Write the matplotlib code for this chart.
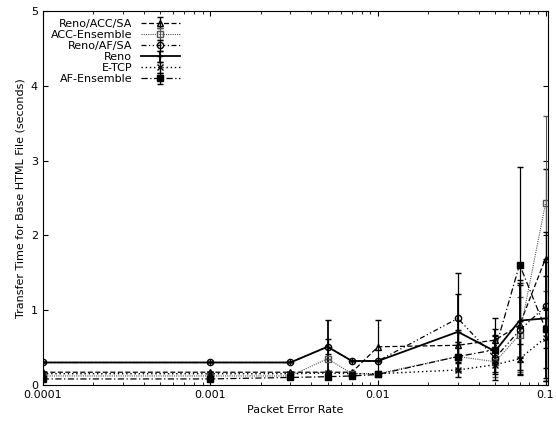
import matplotlib
matplotlib.use("Agg")
import matplotlib.pyplot as plt
import numpy as np

x = [0.0001, 0.001, 0.003, 0.005, 0.007, 0.01, 0.03, 0.05, 0.07, 0.1]
reno_acc_sa = [0.17, 0.17, 0.17, 0.17, 0.17, 0.51, 0.53, 0.60, 0.80, 1.69]
acc_ens     = [0.12, 0.12, 0.12, 0.35, 0.15, 0.15, 0.38, 0.31, 0.67, 2.43]
reno_af_sa  = [0.30, 0.30, 0.30, 0.51, 0.32, 0.32, 0.89, 0.36, 0.73, 1.05]
reno        = [0.30, 0.30, 0.30, 0.51, 0.32, 0.32, 0.71, 0.45, 0.86, 0.89]
etcp        = [0.15, 0.15, 0.15, 0.16, 0.15, 0.15, 0.20, 0.27, 0.35, 0.63]
af_ens      = [0.08, 0.08, 0.10, 0.11, 0.12, 0.14, 0.38, 0.47, 1.61, 0.75]

err_reno_acc_sa = [0, 0, 0, 0, 0, 0.36, 0.2, 0.3, 0.6, 1.2]
err_acc_ens     = [0, 0, 0, 0, 0, 0, 0.2, 0.2, 0.5, 1.17]
err_reno_af_sa  = [0, 0, 0, 0.1, 0, 0, 0.6, 0.3, 0.6, 1.0]
err_reno        = [0, 0, 0, 0.36, 0, 0, 0.5, 0.3, 0.5, 0.8]
err_etcp        = [0, 0, 0, 0, 0, 0, 0.1, 0.1, 0.2, 0.4]
err_af_ens      = [0, 0, 0, 0, 0, 0, 0.2, 0.2, 1.3, 0.7]

series = [
    ("Reno/ACC/SA", reno_acc_sa, err_reno_acc_sa, (0, (4, 2)), "^", "none", "black", 0.9),
    ("ACC-Ensemble", acc_ens, err_acc_ens, (0, (1, 1)), "s", "none", "#555555", 0.8),
    ("Reno/AF/SA", reno_af_sa, err_reno_af_sa, (0, (4, 2, 1, 2, 1, 2)), "o", "none", "black", 0.9),
    ("Reno", reno, err_reno, "-", "+", "black", "black", 1.3),
    ("E-TCP", etcp, err_etcp, (0, (1, 2)), "x", "black", "black", 1.0),
    ("AF-Ensemble", af_ens, err_af_ens, (0, (5, 2, 1, 2)), "s", "black", "black", 0.9),
]

fig = plt.figure(figsize=(5.56, 4.23), dpi=100)
ax = fig.add_axes([0.077, 0.09, 0.908, 0.884])
for lab, y, e, ls, mk, mfc, c, lw in series:
    ax.errorbar(x, y, yerr=e, color=c, ls=ls, lw=lw, marker=mk, mfc=mfc, mec=c,
                ms=4.5, capsize=2, elinewidth=lw, label=lab)
ax.set_xscale("log")
ax.set_xlim(0.0001, 0.103)
ax.set_ylim(0, 5)
ax.set_yticks([0, 1, 2, 3, 4, 5])
ax.set_xticks([0.0001, 0.001, 0.01, 0.1])
ax.set_xticklabels(["0.0001", "0.001", "0.01", "0.1"])
ax.tick_params(labelsize=8, direction="in", which="both", top=True, right=True)
ax.set_xlabel("Packet Error Rate", fontsize=8)
ax.set_ylabel("Transfer Time for Base HTML File (seconds)", fontsize=8)
ax.legend(loc="upper left", markerfirst=False, frameon=False, fontsize=8,
          handlelength=3.5, labelspacing=0.1, borderaxespad=0.3)
fig.savefig("out.png", dpi=100)
